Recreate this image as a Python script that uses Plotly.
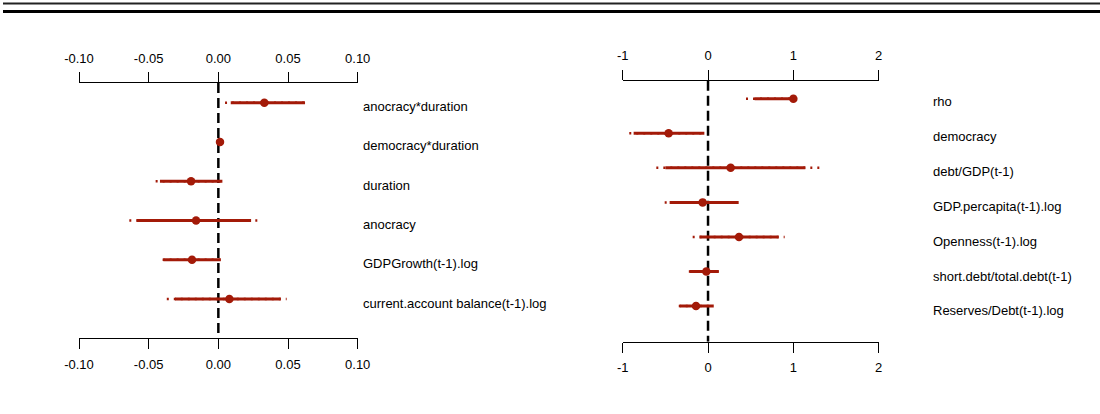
import plotly.graph_objects as go

# ---- coefficient estimates with inner (thick) and outer (dotted) intervals ----
left_labels = ["anocracy*duration", "democracy*duration", "duration", "anocracy",
               "GDPGrowth(t-1).log", "current.account balance(t-1).log"]
left_est = [0.033, 0.0012, -0.0196, -0.016, -0.0189, 0.0079]
left_in_lo = [0.0089, 0.0003, -0.0419, -0.0586, -0.0395, -0.0311]
left_in_hi = [0.0622, 0.0021, 0.0029, 0.0235, 0.0017, 0.0448]
left_out_lo = [0.0048, 0.0000, -0.0450, -0.0639, -0.0400, -0.0370]
left_out_hi = [0.0651, 0.0024, 0.0032, 0.0290, 0.0020, 0.0490]

right_labels = ["rho", "democracy", "debt/GDP(t-1)", "GDP.percapita(t-1).log",
                "Openness(t-1).log", "short.debt/total.debt(t-1)", "Reserves/Debt(t-1).log"]
right_est = [1.0, -0.462, 0.265, -0.063, 0.363, -0.02, -0.141]
right_in_lo = [0.546, -0.872, -0.50, -0.45, -0.10, -0.215, -0.333]
right_in_hi = [1.0, -0.043, 1.14, 0.359, 0.828, 0.124, 0.066]
right_out_lo = [0.445, -0.923, -0.606, -0.508, -0.18, -0.225, -0.343]
right_out_hi = [1.0, -0.030, 1.325, 0.370, 0.898, 0.130, 0.070]

left_ticks = [-0.10, -0.05, 0.00, 0.05, 0.10]
left_ticktext = ["-0.10", "-0.05", "0.00", "0.05", "0.10"]
right_ticks = [-1, 0, 1, 2]
right_ticktext = ["-1", "0", "1", "2"]

W, H = 1100, 414
RED = "#a31a08"
FONT = "Liberation Sans, Arial, sans-serif"

fig = go.Figure()


def add_panel(labels, est, in_lo, in_hi, out_lo, out_hi, xa, ya, yrange):
    rows = list(range(1, len(labels) + 1))
    # zero reference line
    fig.add_trace(go.Scatter(x=[0, 0], y=[yrange[1], yrange[0]], mode="lines",
                             line=dict(color="black", width=2.5, dash="10px,5px"),
                             xaxis=xa, yaxis=ya, hoverinfo="skip", showlegend=False))
    for r, e, a, b, c, d in zip(rows, est, in_lo, in_hi, out_lo, out_hi):
        fig.add_trace(go.Scatter(x=[c, d], y=[r, r], mode="lines",
                                 line=dict(color=RED, width=2.5, dash="2px,5px"),
                                 xaxis=xa, yaxis=ya, showlegend=False))
        fig.add_trace(go.Scatter(x=[a, b], y=[r, r], mode="lines",
                                 line=dict(color=RED, width=3),
                                 xaxis=xa, yaxis=ya, showlegend=False))
    fig.add_trace(go.Scatter(x=est, y=rows, mode="markers",
                             marker=dict(color=RED, size=8.5),
                             xaxis=xa, yaxis=ya, showlegend=False))


# pixel geometry of the two panels
def fx(px):
    return px / W


def fy(py):
    return 1 - py / H


left_y_range = [7.0, 0.5]
right_y_range = [8.03, 0.48]

add_panel(left_labels, left_est, left_in_lo, left_in_hi, left_out_lo, left_out_hi,
          "x", "y", left_y_range)
add_panel(right_labels, right_est, right_in_lo, right_in_hi, right_out_lo, right_out_hi,
          "x3", "y2", right_y_range)
# invisible traces so the top axes are drawn
fig.add_trace(go.Scatter(x=[0], y=[1], mode="markers", marker=dict(opacity=0),
                         xaxis="x2", yaxis="y", showlegend=False, hoverinfo="skip"))
fig.add_trace(go.Scatter(x=[0], y=[1], mode="markers", marker=dict(opacity=0),
                         xaxis="x4", yaxis="y2", showlegend=False, hoverinfo="skip"))

axis_common = dict(showline=True, linecolor="black", linewidth=1.3, ticks="outside",
                   ticklen=10, tickwidth=1.3, tickcolor="black", showgrid=False,
                   zeroline=False, tickfont=dict(family=FONT, size=13, color="black"),
                   ticklabelstandoff=4, automargin=False)

left_dom = [fx(79), fx(357.7)]
right_dom = [fx(622.7), fx(878.7)]

fig.update_layout(
    width=W, height=H, margin=dict(l=0, r=0, t=0, b=0),
    plot_bgcolor="white", paper_bgcolor="white",
    xaxis=dict(domain=left_dom, range=[-0.1, 0.1], anchor="y", side="bottom",
               tickvals=left_ticks, ticktext=left_ticktext, **axis_common),
    xaxis2=dict(domain=left_dom, range=[-0.1, 0.1], anchor="y", side="top", overlaying="x",
                tickvals=left_ticks, ticktext=left_ticktext, **axis_common),
    yaxis=dict(domain=[fy(338.3), fy(83)], range=left_y_range, visible=False,
               automargin=False),
    xaxis3=dict(domain=right_dom, range=[-1, 2], anchor="y2", side="bottom",
                tickvals=right_ticks, ticktext=right_ticktext, **axis_common),
    xaxis4=dict(domain=right_dom, range=[-1, 2], anchor="y2", side="top", overlaying="x3",
                tickvals=right_ticks, ticktext=right_ticktext, **axis_common),
    yaxis2=dict(domain=[fy(341.7), fy(80.7)], range=right_y_range, visible=False,
                automargin=False),
)

# row labels
for i, lab in enumerate(left_labels):
    fig.add_annotation(text=lab, x=fx(361), xref="paper", xanchor="left",
                       y=i + 1, yref="y", yshift=-4, showarrow=False,
                       font=dict(family=FONT, size=13, color="black"))
for i, lab in enumerate(right_labels):
    fig.add_annotation(text=lab, x=fx(931), xref="paper", xanchor="left",
                       y=i + 1, yref="y2", yshift=-3 - 0.3 * i, showarrow=False,
                       font=dict(family=FONT, size=13, color="black"))

# double rule across the top
fig.add_shape(type="line", xref="paper", yref="paper", x0=fx(3), x1=1, y0=fy(3.5), y1=fy(3.5),
              line=dict(color="#222222", width=2))
fig.add_shape(type="line", xref="paper", yref="paper", x0=fx(3), x1=1, y0=fy(11.5), y1=fy(11.5),
              line=dict(color="black", width=3))

fig.write_html("out.html")
